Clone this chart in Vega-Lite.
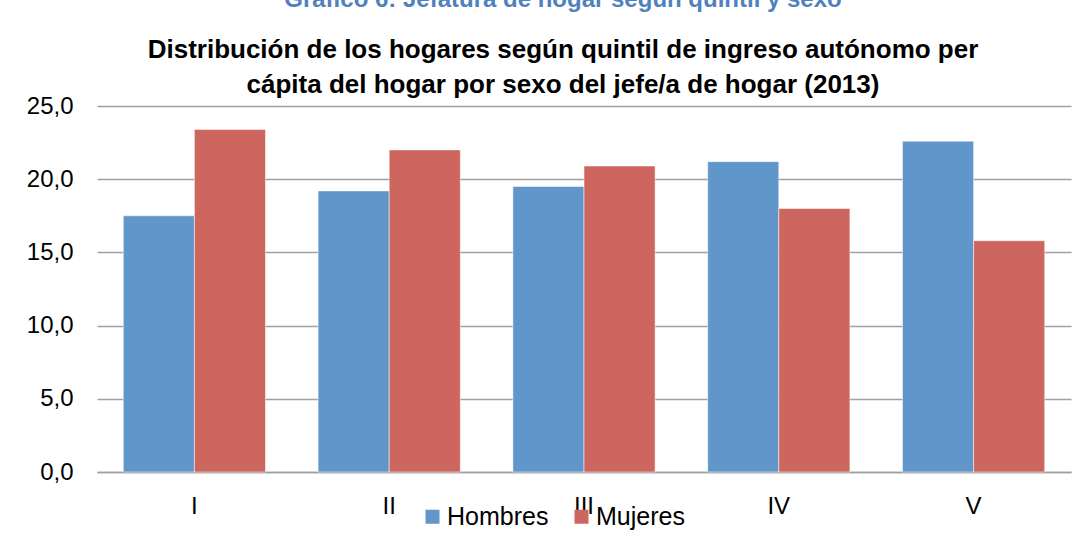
{
  "$schema": "https://vega.github.io/schema/vega-lite/v6.json",
  "autosize": {"type": "none"},
  "width": 974,
  "height": 366,
  "padding": {"left": 97, "top": 106, "right": 14, "bottom": 86},
  "background": "#ffffff",
  "title": {
    "text": "Gráfico 6: Jefatura de hogar según quintil y sexo",
    "subtitle": ["Distribución de los hogares según quintil de ingreso autónomo per", "cápita del hogar por sexo del jefe/a de hogar (2013)"],
    "anchor": "middle",
    "dx": -21,
    "offset": -4,
    "color": "#4f81bd",
    "font": "Liberation Sans",
    "fontSize": 24,
    "fontWeight": "bold",
    "subtitleColor": "#000000",
    "subtitleFont": "Liberation Sans",
    "subtitleFontSize": 26,
    "subtitleFontWeight": "bold",
    "subtitleLineHeight": 35,
    "subtitlePadding": 25
  },
  "data": {
    "values": [
      {"quintil": "I", "sexo": "Hombres", "valor": 17.5},
      {"quintil": "I", "sexo": "Mujeres", "valor": 23.4},
      {"quintil": "II", "sexo": "Hombres", "valor": 19.2},
      {"quintil": "II", "sexo": "Mujeres", "valor": 22.0},
      {"quintil": "III", "sexo": "Hombres", "valor": 19.5},
      {"quintil": "III", "sexo": "Mujeres", "valor": 20.9},
      {"quintil": "IV", "sexo": "Hombres", "valor": 21.2},
      {"quintil": "IV", "sexo": "Mujeres", "valor": 18.0},
      {"quintil": "V", "sexo": "Hombres", "valor": 22.6},
      {"quintil": "V", "sexo": "Mujeres", "valor": 15.8}
    ]
  },
  "mark": {"type": "bar", "stroke": "#ffffff", "strokeOpacity": 0.5, "strokeWidth": 1},
  "encoding": {
    "x": {
      "field": "quintil",
      "type": "nominal",
      "sort": ["I", "II", "III", "IV", "V"],
      "scale": {"paddingInner": 0.27, "paddingOuter": 0.135},
      "axis": {
        "title": null,
        "labelAngle": 0,
        "ticks": false,
        "labelPadding": 22,
        "labelFont": "Liberation Sans",
        "labelFontSize": 24,
        "labelColor": "#000000",
        "domainColor": "#a0a0a0",
        "domainWidth": 1.5
      }
    },
    "xOffset": {
      "field": "sexo",
      "type": "nominal",
      "scale": {"paddingInner": 0, "paddingOuter": 0}
    },
    "y": {
      "field": "valor",
      "type": "quantitative",
      "scale": {"domain": [0, 25], "nice": false},
      "axis": {
        "title": null,
        "values": [0, 5, 10, 15, 20, 25],
        "labelExpr": "replace(format(datum.value, '.1f'), '.', ',')",
        "domain": false,
        "ticks": false,
        "labelPadding": 24,
        "labelFont": "Liberation Sans",
        "labelFontSize": 24,
        "labelColor": "#000000",
        "gridColor": "#a0a0a0",
        "gridWidth": 1.5
      }
    },
    "color": {
      "field": "sexo",
      "type": "nominal",
      "scale": {"domain": ["Hombres", "Mujeres"], "range": ["#6096c9", "#cd665f"]},
      "legend": {
        "title": null,
        "orient": "none",
        "direction": "horizontal",
        "legendX": 323,
        "legendY": 398,
        "symbolType": "square",
        "symbolSize": 196,
        "symbolStrokeWidth": 0,
        "labelFont": "Liberation Sans",
        "labelFontSize": 25,
        "labelColor": "#000000",
        "labelOffset": 2,
        "columnPadding": 20
      }
    }
  },
  "config": {
    "view": {"stroke": null}
  }
}
